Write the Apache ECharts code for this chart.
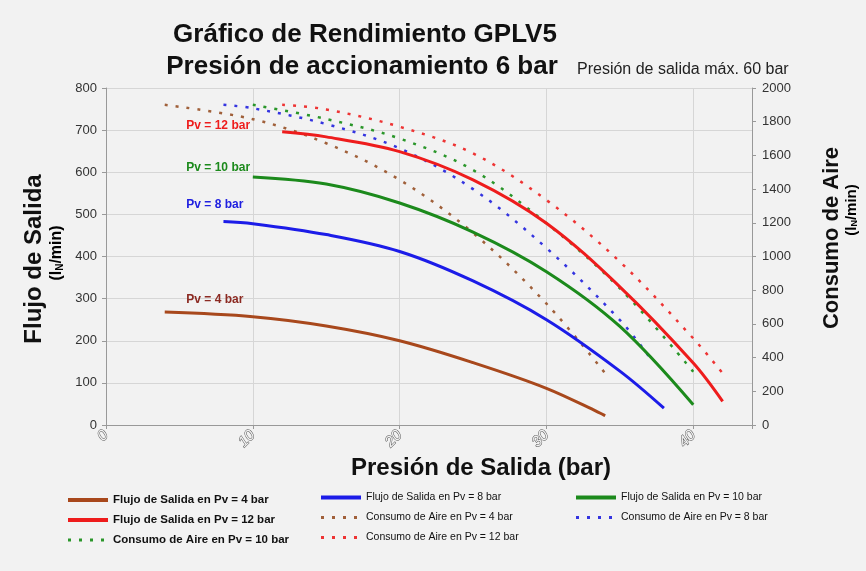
<!DOCTYPE html>
<html><head><meta charset="utf-8">
<script src="https://cdn.jsdelivr.net/npm/echarts@6/dist/echarts.min.js"></script>
<style>html,body{margin:0;padding:0;background:#f2f2f2;}#c{width:866px;height:571px;}</style>
</head><body><div id="c"></div>
<script>
// ---- data (x = Presión de Salida [bar]) ----
const flujo4X = [4, 10, 15, 20, 25, 30, 34];
const flujo4Y = [268, 257, 235, 200, 148, 87, 22];
const flujo8X = [8, 10, 15, 20, 25, 30, 35, 38];
const flujo8Y = [483, 478, 452, 412, 342, 250, 128, 40];
const flujo10X = [10, 15, 20, 25, 30, 35, 40];
const flujo10Y = [589, 572, 527, 458, 364, 234, 48];
const flujo12X = [12, 15, 20, 25, 30, 35, 40, 42];
const flujo12Y = [696, 684, 649, 582, 479, 328, 147, 56];
const aire4X = [4, 10, 15, 20, 25, 30, 34];
const aire4Y = [1900, 1815, 1672, 1455, 1140, 720, 307];
const aire8X = [8, 10, 15, 20, 25, 30, 35, 37];
const aire8Y = [1900, 1880, 1786, 1642, 1400, 1050, 623, 405];
const aire10X = [10, 15, 20, 25, 30, 35, 40];
const aire10Y = [1900, 1816, 1700, 1513, 1197, 811, 316];
const aire12X = [12, 15, 20, 25, 30, 35, 40, 42];
const aire12Y = [1900, 1873, 1770, 1612, 1335, 969, 514, 307];
const xTicks = [0, 10, 20, 30, 40];
const seriesNames = [
  'Flujo de Salida en Pv = 4 bar', 'Flujo de Salida en Pv = 8 bar',
  'Flujo de Salida en Pv = 10 bar', 'Flujo de Salida en Pv = 12 bar',
  'Consumo de Aire en Pv = 4 bar', 'Consumo de Aire en Pv = 8 bar',
  'Consumo de Aire en Pv = 10 bar', 'Consumo de Aire en Pv = 12 bar'
];
const pvLabels = ['Pv = 4 bar', 'Pv = 8 bar', 'Pv = 10 bar', 'Pv = 12 bar'];

const zip = (xs, ys) => xs.map((x, i) => [x, ys[i]]);
const C = {
  b: '#a8481c', bl: '#1c1ce8', g: '#1c8a1c', r: '#ee1c1c',
  bd: '#a0603a', bld: '#3434e0', gd: '#2a962a', rd: '#ee3434'
};
const SANS = "'Liberation Sans',Arial,sans-serif";

function solid(name, data, color, lbl, lblY, lblColor) {
  return {
    name, type: 'line', data, yAxisIndex: 0, smooth: 0.35, symbol: 'none',
    lineStyle: { color, width: 3 }, itemStyle: { color }, z: 3,
    markPoint: {
      symbol: 'circle', symbolSize: 0, silent: true,
      data: [{ coord: [5.2, lblY] }],
      label: { show: true, position: 'right', distance: 4, formatter: lbl,
        color: lblColor, fontSize: 12, fontWeight: 'bold', fontFamily: SANS }
    }
  };
}
function dotted(name, data, color) {
  return {
    name, type: 'line', data, yAxisIndex: 1, smooth: 0.35, symbol: 'none',
    lineStyle: { color, width: 2.5, type: [3, 8] }, itemStyle: { color }, z: 2
  };
}

const chart = echarts.init(document.getElementById('c'));
const legItem = idx => ({
  name: seriesNames[idx],
  lineStyle: idx < 4 ? { width: 4 } : { width: 3, type: [3, 8] }
});
function legendCol(left, top, idxs, bold, size, gap) {
  return {
    left, top, data: idxs.map(legItem), orient: 'vertical', padding: 0,
    itemWidth: 40, itemHeight: 12, itemGap: gap,
    itemStyle: { opacity: 0 },
    textStyle: { fontFamily: SANS, fontSize: size, fontWeight: bold ? 'bold' : 'normal', color: '#111' }
  };
}
const unitRich = size => ({
  a: { fontSize: size, fontWeight: 'bold', fontFamily: SANS, color: '#111' },
  s: { fontSize: Math.round(size * 0.6), fontWeight: 'bold', fontFamily: SANS, color: '#111', padding: [Math.round(size * 0.4), 0, 0, 0] }
});
chart.setOption({
  backgroundColor: '#f2f2f2',
  animation: false,
  grid: { left: 106, right: 114, top: 88, bottom: 146 },
  xAxis: {
    type: 'value', min: 0, max: 44, interval: 10,
    axisLine: { show: true, lineStyle: { color: '#999' } },
    axisTick: { show: true, length: 4, lineStyle: { color: '#999' } },
    splitLine: { show: true, lineStyle: { color: '#d6d6d6' } },
    axisLabel: {
      rotate: 45, margin: 8, fontSize: 15, fontStyle: 'italic', fontFamily: SANS,
      color: '#f2f2f2', textBorderColor: '#555', textBorderWidth: 1,
      formatter: v => xTicks.includes(v) ? String(v) : ''
    }
  },
  yAxis: [{
    type: 'value', min: 0, max: 800, interval: 100, position: 'left',
    axisLine: { show: true, lineStyle: { color: '#999' } },
    axisTick: { show: true, length: 4, lineStyle: { color: '#999' } },
    splitLine: { show: true, lineStyle: { color: '#d6d6d6' } },
    axisLabel: { fontSize: 13, color: '#333', margin: 9, fontFamily: SANS }
  }, {
    type: 'value', min: 0, max: 2000, interval: 200, position: 'right',
    axisLine: { show: true, lineStyle: { color: '#999' } },
    axisTick: { show: true, length: 4, lineStyle: { color: '#999' } },
    splitLine: { show: false },
    axisLabel: { fontSize: 13, color: '#333', margin: 10, fontFamily: SANS, formatter: v => String(v) }
  }],
  legend: [
    legendCol(66, 494, [0, 3, 6], true, 11.5, 8),
    legendCol(319, 492, [1, 4, 7], false, 10.5, 9),
    legendCol(574, 492, [2, 5], false, 10.5, 9)
  ],
  graphic: [
    { type: 'text', x: 365, y: 35, style: { text: 'Gráfico de Rendimiento GPLV5', align: 'center', verticalAlign: 'middle', font: "bold 26px " + SANS, fill: '#111' } },
    { type: 'text', x: 362, y: 67, style: { text: 'Presión de accionamiento 6 bar', align: 'center', verticalAlign: 'middle', font: "bold 26px " + SANS, fill: '#111' } },
    { type: 'text', x: 577, y: 70, style: { text: 'Presión de salida máx. 60 bar', align: 'left', verticalAlign: 'middle', font: "16px " + SANS, fill: '#222' } },
    { type: 'text', x: 481, y: 468, style: { text: 'Presión de Salida (bar)', align: 'center', verticalAlign: 'middle', font: "bold 24px " + SANS, fill: '#111' } },
    { type: 'text', x: 34, y: 259, rotation: Math.PI / 2, style: { text: 'Flujo de Salida', align: 'center', verticalAlign: 'middle', font: "bold 24px " + SANS, fill: '#111' } },
    { type: 'text', x: 57, y: 253, rotation: Math.PI / 2, style: { text: '{a|(l}{s|N}{a|/min)}', align: 'center', verticalAlign: 'middle', rich: unitRich(16) } },
    { type: 'text', x: 832, y: 238, rotation: Math.PI / 2, style: { text: 'Consumo de Aire', align: 'center', verticalAlign: 'middle', font: "bold 22px " + SANS, fill: '#111' } },
    { type: 'text', x: 852, y: 210, rotation: Math.PI / 2, style: { text: '{a|(l}{s|N}{a|/min)}', align: 'center', verticalAlign: 'middle', rich: unitRich(15) } }
  ],
  series: [
    solid(seriesNames[0], zip(flujo4X, flujo4Y), C.b, pvLabels[0], 297, '#8c2a22'),
    solid(seriesNames[1], zip(flujo8X, flujo8Y), C.bl, pvLabels[1], 522, '#2020e0'),
    solid(seriesNames[2], zip(flujo10X, flujo10Y), C.g, pvLabels[2], 612, '#1c8a1c'),
    solid(seriesNames[3], zip(flujo12X, flujo12Y), C.r, pvLabels[3], 710, '#ee1c1c'),
    dotted(seriesNames[4], zip(aire4X, aire4Y), C.bd),
    dotted(seriesNames[5], zip(aire8X, aire8Y), C.bld),
    dotted(seriesNames[6], zip(aire10X, aire10Y), C.gd),
    dotted(seriesNames[7], zip(aire12X, aire12Y), C.rd)
  ]
});
</script></body></html>
